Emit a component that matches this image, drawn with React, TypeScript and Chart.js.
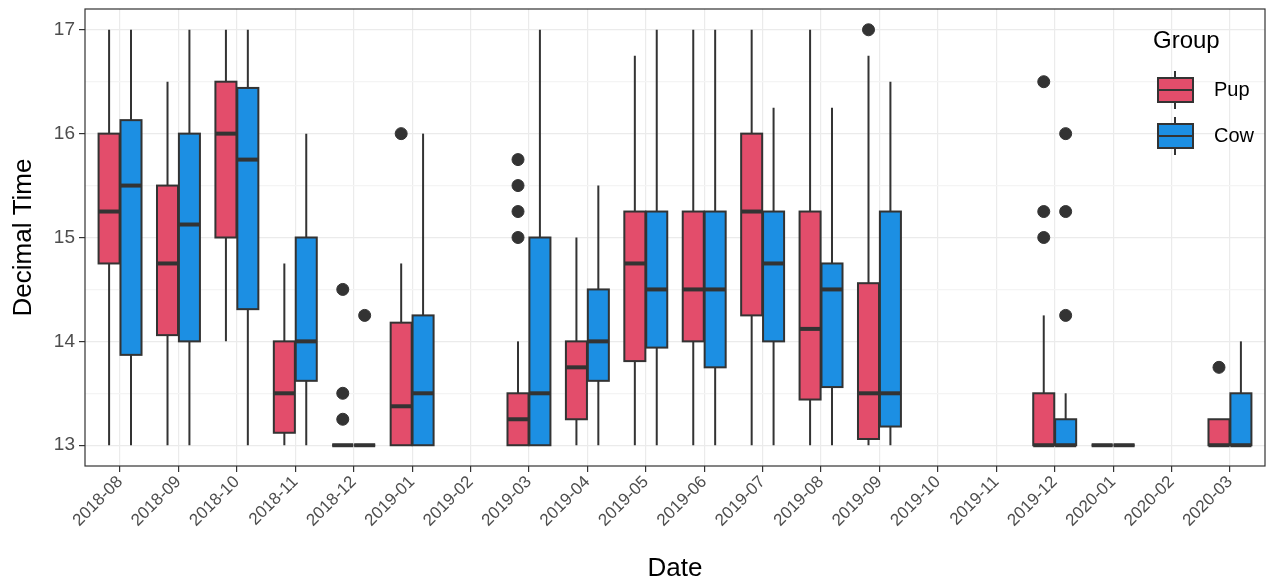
import { useEffect, useRef } from "react";
import { Chart, registerables } from "chart.js";

Chart.register(...registerables);

const months = [
  "2018-08", "2018-09", "2018-10", "2018-11", "2018-12", "2019-01", "2019-02",
  "2019-03", "2019-04", "2019-05", "2019-06", "2019-07", "2019-08", "2019-09",
  "2019-10", "2019-11", "2019-12", "2020-01", "2020-02", "2020-03",
];

// [min, q1, median, q3, max] per month, null where no data
const pupStats = [
  [13, 14.75, 15.25, 16, 17],
  [13, 14.06, 14.75, 15.5, 16.5],
  [14, 15, 16, 16.5, 17],
  [13, 13.12, 13.5, 14, 14.75],
  [13, 13, 13, 13, 13],
  [13, 13, 13.375, 14.18, 14.75],
  null,
  [13, 13, 13.25, 13.5, 14],
  [13, 13.25, 13.75, 14, 15],
  [13, 13.81, 14.75, 15.25, 16.75],
  [13, 14, 14.5, 15.25, 17],
  [13, 14.25, 15.25, 16, 17],
  [13, 13.44, 14.12, 15.25, 17],
  [13, 13.06, 13.5, 14.56, 16.75],
  null,
  null,
  [13, 13, 13, 13.5, 14.25],
  [13, 13, 13, 13, 13],
  null,
  [13, 13, 13, 13.25, 13.25],
];

const cowStats = [
  [13, 13.87, 15.5, 16.13, 17],
  [13, 14, 15.125, 16, 17],
  [13, 14.31, 15.75, 16.44, 17],
  [13, 13.62, 14, 15, 16],
  [13, 13, 13, 13, 13],
  [13, 13, 13.5, 14.25, 16],
  null,
  [13, 13, 13.5, 15, 17],
  [13, 13.62, 14, 14.5, 15.5],
  [13, 13.94, 14.5, 15.25, 17],
  [13, 13.75, 14.5, 15.25, 17],
  [13, 14, 14.75, 15.25, 16.25],
  [13, 13.56, 14.5, 14.75, 16.25],
  [13, 13.18, 13.5, 15.25, 16.5],
  null,
  null,
  [13, 13, 13, 13.25, 13.5],
  [13, 13, 13, 13, 13],
  null,
  [13, 13, 13, 13.5, 14],
];

// outliers: [month index, value]
const pupOutliers = [
  [4, 14.5], [4, 13.5], [4, 13.25], [5, 16],
  [7, 15.75], [7, 15.5], [7, 15.25], [7, 15],
  [13, 17], [16, 16.5], [16, 15.25], [16, 15], [19, 13.75],
];
const cowOutliers = [[4, 14.25], [16, 16], [16, 15.25], [16, 14.25]];

const PUP = "#E34D6B";
const COW = "#1C8FE3";
const INK = "#333333";
const DODGE = 0.1875;
const HALF_W = 0.18;
const FONT = "'Liberation Sans', Arial, sans-serif";

const groups = [
  { stats: pupStats, color: PUP, off: -DODGE },
  { stats: cowStats, color: COW, off: DODGE },
];

const boxPlugin = {
  id: "boxes",
  beforeDatasetsDraw(chart: any) {
    const { ctx, scales } = chart;
    const x = scales.x;
    const y = scales.y;
    ctx.save();
    for (const g of groups) {
      g.stats.forEach((s: number[] | null, i: number) => {
        if (!s) return;
        const cx = x.getPixelForValue(i + g.off);
        const l = x.getPixelForValue(i + g.off - HALF_W);
        const r = x.getPixelForValue(i + g.off + HALF_W);
        const [mn, q1, md, q3, mx] = s.map((v) => y.getPixelForValue(v));
        ctx.strokeStyle = INK;
        ctx.lineWidth = 2;
        ctx.beginPath();
        ctx.moveTo(cx, mx);
        ctx.lineTo(cx, q3);
        ctx.moveTo(cx, q1);
        ctx.lineTo(cx, mn);
        ctx.stroke();
        ctx.fillStyle = g.color;
        ctx.fillRect(l, q3, r - l, q1 - q3);
        ctx.strokeRect(l, q3, r - l, q1 - q3);
        ctx.lineWidth = 4;
        ctx.beginPath();
        ctx.moveTo(l, md);
        ctx.lineTo(r, md);
        ctx.stroke();
      });
    }
    ctx.restore();
  },
  afterDraw(chart: any) {
    const { ctx, chartArea } = chart;
    ctx.save();
    ctx.strokeStyle = INK;
    ctx.lineWidth = 1.2;
    ctx.strokeRect(chartArea.left, chartArea.top, chartArea.right - chartArea.left, chartArea.bottom - chartArea.top);
    // legend
    ctx.fillStyle = "#000";
    ctx.font = `24px ${FONT}`;
    ctx.textBaseline = "middle";
    ctx.fillText("Group", 1153, 41);
    const keys = [
      { label: "Pup", color: PUP, cy: 90 },
      { label: "Cow", color: COW, cy: 136 },
    ];
    for (const k of keys) {
      ctx.strokeStyle = INK;
      ctx.lineWidth = 2;
      ctx.beginPath();
      ctx.moveTo(1175, k.cy - 19);
      ctx.lineTo(1175, k.cy + 19);
      ctx.stroke();
      ctx.fillStyle = k.color;
      ctx.fillRect(1158, k.cy - 12, 35, 24);
      ctx.strokeRect(1158, k.cy - 12, 35, 24);
      ctx.beginPath();
      ctx.moveTo(1158, k.cy);
      ctx.lineTo(1193, k.cy);
      ctx.stroke();
      ctx.fillStyle = "#000";
      ctx.font = `20px ${FONT}`;
      ctx.fillText(k.label, 1214, k.cy);
    }
    ctx.restore();
  },
};

const App = () => {
  const chartRef = useRef<HTMLCanvasElement>(null);

  useEffect(() => {
    const ctx = chartRef.current!.getContext("2d")!;
    const toPts = (arr: number[][], off: number) => arr.map(([i, v]) => ({ x: i + off, y: v }));

    const myChart = new Chart(ctx, {
      type: "scatter",
      data: {
        datasets: [
          { label: "Pup", data: toPts(pupOutliers, -DODGE), backgroundColor: INK, borderColor: INK, pointRadius: 6 },
          { label: "Cow", data: toPts(cowOutliers, DODGE), backgroundColor: INK, borderColor: INK, pointRadius: 6 },
        ],
      },
      options: {
        responsive: true,
        maintainAspectRatio: false,
        animation: false,
        layout: { padding: { top: 9, right: 5, left: 8, bottom: 0 } },
        plugins: { legend: { display: false }, tooltip: { enabled: false } },
        scales: {
          x: {
            type: "linear",
            min: -0.6,
            max: 19.6,
            afterBuildTicks: (s: any) => {
              s.ticks = months.map((_, i) => ({ value: i }));
            },
            afterFit: (s: any) => {
              s.height = 118;
              s.paddingLeft = 0;
              s.paddingRight = 0;
            },
            ticks: {
              callback: (v: any) => months[v] ?? "",
              maxRotation: 45,
              minRotation: 45,
              color: "#4d4d4d",
              font: { size: 17, family: FONT },
              padding: 0,
            },
            grid: { color: "#ebebeb", lineWidth: 1.2, tickColor: INK, tickLength: 6 },
            border: { display: false },
            title: {
              display: true,
              text: "Date",
              color: "#000",
              font: { size: 26, family: FONT },
              padding: { top: 0, bottom: 0 },
            },
          },
          y: {
            min: 12.8,
            max: 17.2,
            afterBuildTicks: (s: any) => {
              const t = [];
              for (let v = 13; v <= 17; v += 0.5) t.push({ value: v });
              s.ticks = t;
            },
            afterFit: (s: any) => {
              s.width = 77;
              s.paddingTop = 0;
              s.paddingBottom = 0;
            },
            ticks: {
              callback: (v: any) => (Number.isInteger(v) ? String(v) : ""),
              color: "#4d4d4d",
              font: { size: 19, family: FONT },
              padding: 4,
            },
            grid: {
              color: (c: any) => (Number.isInteger(c.tick?.value) ? "#ebebeb" : "#f4f4f4"),
              tickColor: (c: any) => (Number.isInteger(c.tick?.value) ? INK : "rgba(0,0,0,0)"),
              lineWidth: 1.2,
              tickLength: 6,
            },
            border: { display: false },
            title: {
              display: true,
              text: "Decimal Time",
              color: "#000",
              font: { size: 26, family: FONT },
              padding: { top: 0, bottom: 0 },
            },
          },
        },
      },
      plugins: [boxPlugin],
    });

    return () => {
      myChart.destroy();
    };
  }, []);

  return (
    <div style={{ position: "fixed", left: 0, top: 0, width: 1272, height: 584, background: "#fff" }}>
      <canvas ref={chartRef} />
    </div>
  );
};

export default App;
